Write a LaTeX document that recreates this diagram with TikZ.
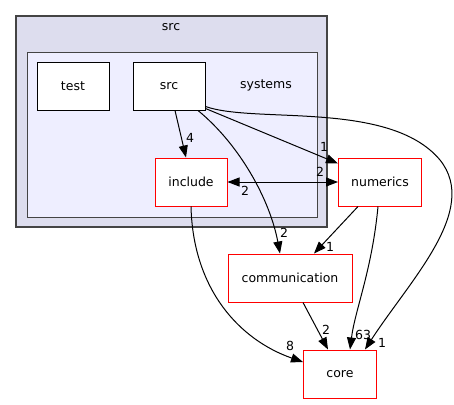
\documentclass[tikz,border=0pt]{standalone}
\usepackage{fontspec}
\setmainfont{DejaVu Sans}
\usetikzlibrary{arrows.meta}
\definecolor{outerfill}{HTML}{DDDDEE}
\definecolor{innerfill}{HTML}{EEEEFF}
\definecolor{framegray}{HTML}{444444}
\begin{document}
\begin{tikzpicture}[x=1pt,y=-1pt,font=\fontsize{12.5}{14}\selectfont,
  dir/.style={draw=black,fill=white,line width=1pt,minimum width=72pt,minimum height=48pt,inner sep=0pt},
  rdir/.style={dir,draw=red},
  dep/.style={line width=1pt,-{Triangle[length=12pt,width=9pt]}},
  lbl/.style={inner sep=0pt}]
\useasboundingbox (0,0) rectangle (454,404);

% clusters
\draw[fill=outerfill,draw=framegray,line width=1.3pt] (16,16) rectangle (327,227);
\node (srcname) at (171,27) {src};
\draw[fill=innerfill,draw=framegray,line width=1pt] (27,52) rectangle (317,217);
\node (sysname) at (266,85) {systems};

% directories
\node[dir] (test) at (73,86) {test};
\node[dir] (src) at (169,86) {src};
\node[rdir] (include) at (191,182) {include};
\node[rdir,minimum width=83pt] (numerics) at (380,182) {numerics};
\node[rdir,minimum width=124pt] (comm) at (290,278) {communication};
\node[rdir,minimum width=73pt] (core) at (340,374) {core};

% dependencies
\draw[dep] ([xshift=6pt]src.south) -- ([xshift=-5pt]include.north);
\draw[dep] ([xshift=29pt]src.south) .. controls (240,145) and (270,200) .. ([xshift=-10pt]comm.north);
\draw[dep] ([yshift=2pt]src.south east) -- ([yshift=-6pt]numerics.north west);
\draw[dep] ([yshift=4pt]src.south east) .. controls (255,124) and (390,100) .. (440,160)
  .. controls (480,210) and (410,280) .. ([xshift=25pt]core.north);
\draw[dep,{Triangle[length=12pt,width=9pt]}-{Triangle[length=12pt,width=9pt]}] (include.east) -- (numerics.west);
\draw[dep] (include.south) .. controls (193,290) and (240,340) .. ([yshift=12pt]core.west);
\draw[dep] ([xshift=-22pt]numerics.south) -- ([xshift=24pt]comm.north);
\draw[dep] ([xshift=-2pt]numerics.south) .. controls (372,270) and (355,310) .. ([xshift=10pt]core.north);
\draw[dep] ([xshift=13pt]comm.south) -- ([xshift=-12pt]core.north);

% edge labels
\node[lbl] (l1) at (190,138) {4};
\node[lbl] (l2) at (284,233) {2};
\node[lbl] (l3) at (324,147) {1};
\node[lbl] (l4) at (382,343) {1};
\node[lbl] (l5) at (320,172) {2};
\node[lbl] (l6) at (245,191) {2};
\node[lbl] (l7) at (290,346) {8};
\node[lbl] (l8) at (330,247) {1};
\node[lbl] (l9) at (363,335) {63};
\node[lbl] (l10) at (326,330) {2};

\end{tikzpicture}
\end{document}
